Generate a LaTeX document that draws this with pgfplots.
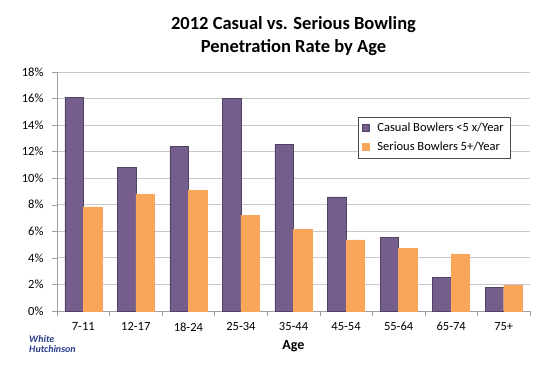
\documentclass[border=0pt]{standalone}
\usepackage{fontspec}
\setmainfont{Carlito}
\usepackage{pgfplots}
\pgfplotsset{compat=1.18}
\definecolor{casual}{RGB}{117,94,140}
\definecolor{serious}{RGB}{249,166,90}
\definecolor{gridc}{RGB}{200,200,200}
\definecolor{axc}{RGB}{160,160,160}
\definecolor{logo}{RGB}{40,60,140}
\begin{document}
\begin{tikzpicture}
\begin{axis}[
  scale only axis,
  width=473pt, height=239pt,
  xmin=-0.5, xmax=8.5,
  ymin=0, ymax=18,
  ybar=0pt, bar width=18.5pt,
  xtick={0,...,8},
  xticklabels={7-11,12-17,18-24,25-34,35-44,45-54,55-64,65-74,75+},
  major x tick style={draw=none},
  minor xtick={-0.5,0.5,...,8.5},
  minor x tick style={axc, thin},
  minor tick length=5pt,
  ytick={0,2,...,18},
  yticklabels={0\%,2\%,4\%,6\%,8\%,10\%,12\%,14\%,16\%,18\%},
  ymajorgrids,
  grid style={gridc, line width=0.8pt},
  axis x line*=bottom, axis y line*=left,
  axis line style={axc, line width=0.8pt},
  tick align=outside,
  major tick length=5pt,
  y tick style={axc, thin},
  tick label style={font=\fontsize{12.5}{14}\selectfont, /pgf/number format/assume math mode=true},
  xticklabel style={yshift=-3pt},
  yticklabel style={xshift=-5pt},
  xlabel={\textbf{Age}},
  xlabel style={font=\fontsize{14}{16}\selectfont, yshift=-2pt},
  title={\textbf{2012 Casual vs. Serious Bowling}\\\textbf{Penetration Rate by Age}},
  title style={font=\fontsize{18.5}{23}\selectfont, align=center, yshift=7pt},
  legend style={at={(0.636,0.812)}, anchor=north west, draw=black!70, font=\fontsize{12.5}{14}\selectfont, inner xsep=4pt, inner ysep=4pt, row sep=5pt, legend cell align=left},
  legend image code/.code={\fill[#1] (0pt,-3pt) rectangle (7pt,4pt);},
  clip=false,
]
\addplot[fill=casual, draw=casual!70!black] coordinates {(0,16.1) (1,10.84) (2,12.41) (3,16.0) (4,12.54) (5,8.6) (6,5.56) (7,2.51) (8,1.78)};
\addplot[fill=serious, draw=serious] coordinates {(0,7.84) (1,8.76) (2,9.11) (3,7.23) (4,6.14) (5,5.36) (6,4.70) (7,4.31) (8,1.95)};
\legend{\hspace{6pt}Casual Bowlers <5 x/Year, \hspace{6pt}Serious Bowlers 5+/Year}
\coordinate (O) at (rel axis cs:0,0);
\end{axis}
\node[font=\fontsize{10}{10}\selectfont\itshape\bfseries, text=logo, align=left, anchor=north west, inner sep=0pt] at ([shift={(-28pt,-24pt)}]O) {White\\Hutchinson};
\path[use as bounding box] ([shift={(-57pt,-56pt)}]O) rectangle ++(540pt,367pt);
\end{tikzpicture}
\end{document}
